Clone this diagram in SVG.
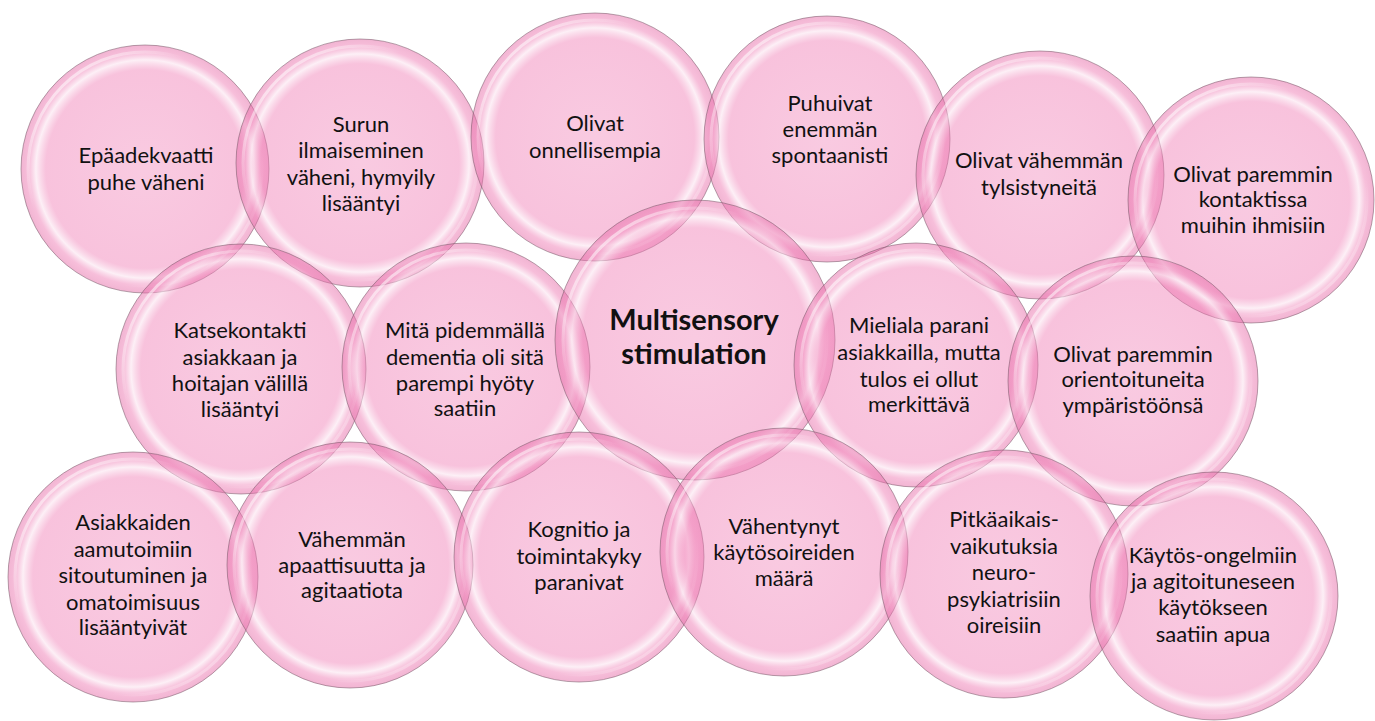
<svg xmlns="http://www.w3.org/2000/svg" width="1375" height="721" viewBox="0 0 1375 721">
<style>
.c{fill:url(#pk);stroke:#7a5a6a;stroke-width:1;stroke-opacity:0.55}
.h{fill:none;stroke:url(#hl);stroke-width:3}
.t{font-family:Lato,"Liberation Sans",sans-serif;font-size:22px;fill:#111;text-anchor:middle}
.b{font-weight:bold;font-size:29px}
</style>
<defs>
<radialGradient id="pk">
<stop offset="0" stop-color="#f07bb4" stop-opacity="0.40"/>
<stop offset="0.8" stop-color="#f07bb4" stop-opacity="0.46"/>
<stop offset="0.88" stop-color="#fbe3ef" stop-opacity="0.55"/>
<stop offset="0.94" stop-color="#ee78b2" stop-opacity="0.48"/>
<stop offset="1" stop-color="#e46aa6" stop-opacity="0.5"/>
</radialGradient>
<linearGradient id="hl" x1="0" y1="0" x2="1" y2="1">
<stop offset="0" stop-color="#fff" stop-opacity="0.9"/>
<stop offset="0.35" stop-color="#fff" stop-opacity="0"/>
<stop offset="0.7" stop-color="#fff" stop-opacity="0"/>
<stop offset="1" stop-color="#fff" stop-opacity="0.6"/>
</linearGradient>
</defs>
<g id="nodes">
<g id="n1"><circle class="c" cx="145" cy="169" r="124"/><circle class="h" cx="145" cy="169" r="117"/>
<text class="t"><tspan x="146" y="163">Epäadekvaatti</tspan><tspan x="146" y="190">puhe väheni</tspan></text></g>
<g id="n2"><circle class="c" cx="360" cy="163" r="124"/><circle class="h" cx="360" cy="163" r="117"/>
<text class="t"><tspan x="361" y="132">Surun</tspan><tspan x="361" y="158">ilmaiseminen</tspan><tspan x="361" y="185">väheni, hymyily</tspan><tspan x="361" y="211">lisääntyi</tspan></text></g>
<g id="n3"><circle class="c" cx="595" cy="137" r="124"/><circle class="h" cx="595" cy="137" r="117"/>
<text class="t"><tspan x="595" y="131">Olivat</tspan><tspan x="595" y="158">onnellisempia</tspan></text></g>
<g id="n4"><circle class="c" cx="827" cy="139" r="123"/><circle class="h" cx="827" cy="139" r="116"/>
<text class="t"><tspan x="830" y="111">Puhuivat</tspan><tspan x="830" y="137">enemmän</tspan><tspan x="830" y="163">spontaanisti</tspan></text></g>
<g id="n5"><circle class="c" cx="1040" cy="175" r="124"/><circle class="h" cx="1040" cy="175" r="117"/>
<text class="t"><tspan x="1039" y="168">Olivat vähemmän</tspan><tspan x="1039" y="195">tylsistyneitä</tspan></text></g>
<g id="n6"><circle class="c" cx="1251" cy="200" r="123"/><circle class="h" cx="1251" cy="200" r="116"/>
<text class="t"><tspan x="1253" y="182">Olivat paremmin</tspan><tspan x="1253" y="207">kontaktissa</tspan><tspan x="1253" y="233">muihin ihmisiin</tspan></text></g>
<g id="n7"><circle class="c" cx="241" cy="369" r="125"/><circle class="h" cx="241" cy="369" r="118"/>
<text class="t"><tspan x="240" y="338">Katsekontakti</tspan><tspan x="240" y="365">asiakkaan ja</tspan><tspan x="240" y="391">hoitajan välillä</tspan><tspan x="240" y="417">lisääntyi</tspan></text></g>
<g id="n8"><circle class="c" cx="466" cy="367" r="124"/><circle class="h" cx="466" cy="367" r="117"/>
<text class="t"><tspan x="465" y="338">Mitä pidemmällä</tspan><tspan x="465" y="365">dementia oli sitä</tspan><tspan x="465" y="391">parempi hyöty</tspan><tspan x="465" y="416">saatiin</tspan></text></g>
<g id="n9"><circle class="c" cx="695" cy="340" r="140"/><circle class="h" cx="695" cy="340" r="132"/>
<text class="t b"><tspan x="694" y="330">Multisensory</tspan><tspan x="694" y="364">stimulation</tspan></text></g>
<g id="n10"><circle class="c" cx="916" cy="365" r="122"/><circle class="h" cx="916" cy="365" r="115"/>
<text class="t"><tspan x="919" y="333">Mieliala parani</tspan><tspan x="919" y="360">asiakkailla, mutta</tspan><tspan x="919" y="387">tulos ei ollut</tspan><tspan x="919" y="412">merkittävä</tspan></text></g>
<g id="n11"><circle class="c" cx="1133" cy="381" r="125"/><circle class="h" cx="1133" cy="381" r="118"/>
<text class="t"><tspan x="1133" y="362">Olivat paremmin</tspan><tspan x="1133" y="387">orientoituneita</tspan><tspan x="1133" y="413">ympäristöönsä</tspan></text></g>
<g id="n12"><circle class="c" cx="133" cy="577" r="125"/><circle class="h" cx="133" cy="577" r="118"/>
<text class="t"><tspan x="133" y="530">Asiakkaiden</tspan><tspan x="133" y="557">aamutoimiin</tspan><tspan x="133" y="583">sitoutuminen ja</tspan><tspan x="133" y="610">omatoimisuus</tspan><tspan x="133" y="635">lisääntyivät</tspan></text></g>
<g id="n13"><circle class="c" cx="350" cy="565" r="123"/><circle class="h" cx="350" cy="565" r="116"/>
<text class="t"><tspan x="352" y="547">Vähemmän</tspan><tspan x="352" y="573">apaattisuutta ja</tspan><tspan x="352" y="598">agitaatiota</tspan></text></g>
<g id="n14"><circle class="c" cx="579" cy="557" r="125"/><circle class="h" cx="579" cy="557" r="118"/>
<text class="t"><tspan x="579" y="537">Kognitio ja</tspan><tspan x="579" y="564">toimintakyky</tspan><tspan x="579" y="590">paranivat</tspan></text></g>
<g id="n15"><circle class="c" cx="784" cy="552" r="124"/><circle class="h" cx="784" cy="552" r="117"/>
<text class="t"><tspan x="784" y="534">Vähentynyt</tspan><tspan x="784" y="560">käytösoireiden</tspan><tspan x="784" y="586">määrä</tspan></text></g>
<g id="n16"><circle class="c" cx="1004" cy="574" r="124"/><circle class="h" cx="1004" cy="574" r="117"/>
<text class="t"><tspan x="1004" y="527">Pitkäaikais-</tspan><tspan x="1004" y="554">vaikutuksia</tspan><tspan x="1004" y="580">neuro-</tspan><tspan x="1004" y="607">psykiatrisiin</tspan><tspan x="1004" y="633">oireisiin</tspan></text></g>
<g id="n17"><circle class="c" cx="1214" cy="596" r="124"/><circle class="h" cx="1214" cy="596" r="117"/>
<text class="t"><tspan x="1213" y="563">Käytös-ongelmiin</tspan><tspan x="1213" y="589">ja agitoituneseen</tspan><tspan x="1213" y="615">käytökseen</tspan><tspan x="1213" y="642">saatiin apua</tspan></text></g>
</g>
</svg>
